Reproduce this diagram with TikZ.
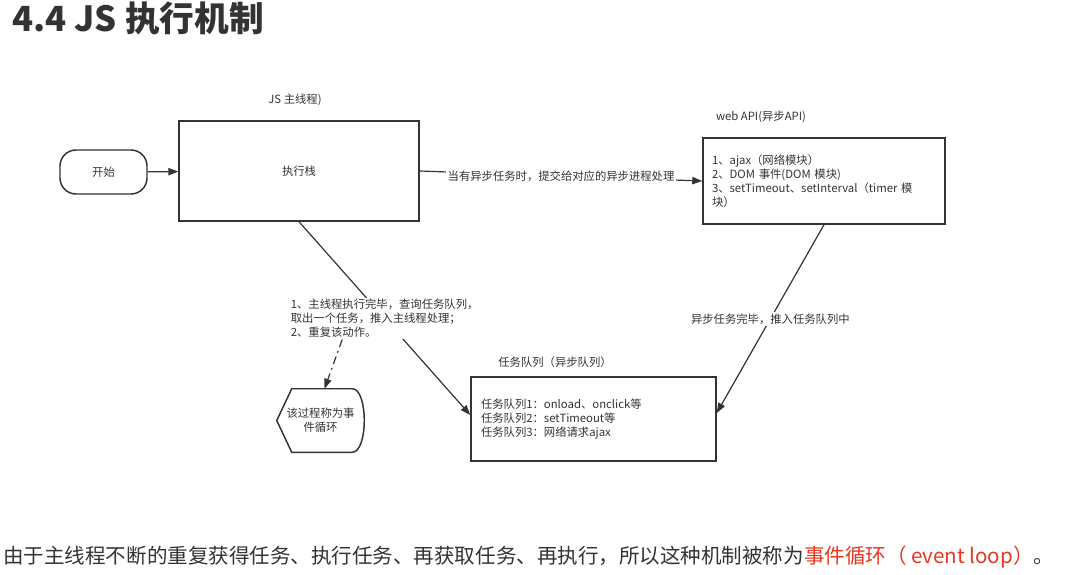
\documentclass[tikz,border=0pt]{standalone}
\usepackage{fontspec}
\setmainfont{Noto Sans CJK SC}
\usetikzlibrary{arrows.meta}
\definecolor{ink}{HTML}{333333}
\definecolor{loopred}{HTML}{E8361E}

\begin{document}
\begin{tikzpicture}[x=0.75pt, y=-0.75pt,
  font=\fontsize{8.5}{10.5}\selectfont, color=ink,
  box/.style={draw, line width=1.1pt, inner sep=0pt},
  lbl/.style={inner sep=1pt},
  onl/.style={fill=white, inner sep=1pt},
  ar/.style={-{Triangle[length=7.5pt, width=5.5pt]}, line width=0.9pt},
  loopar/.style={ar, dash pattern=on 6pt off 3pt on 1.5pt off 3pt}]
\useasboundingbox (0,0) rectangle (1068,575);
\node[anchor=base west, inner sep=0pt, font=\fontsize{26}{30}\selectfont\bfseries] (title) at (12,31) {4.4 JS 执行机制};
\node[box, rounded corners=12pt, minimum width=65.25pt, minimum height=33pt] (start) at (103.5,172) {开始};
\node[box, minimum width=180pt, minimum height=75pt] (exec) at (299,171) {执行栈};
\node[lbl] (mainlbl) at (295,100) {JS 主线程)};
\node[box, minimum width=181.5pt, minimum height=64.5pt, text width=168pt, align=left] (api) at (824,181)
  {1、ajax（网络模块）\\2、DOM 事件(DOM 模块)\\3、setTimeout、setInterval（timer~模\\块）};
\node[lbl] (apilbl) at (761,117) {web API(异步API)};
\node[box, minimum width=183.75pt, minimum height=63pt, text width=168.75pt, align=left] (queue) at (593.5,419)
  {任务队列1：onload、onclick等\\任务队列2：setTimeout等\\任务队列3：网络请求ajax};
\node[lbl] (queuelbl) at (555,362) {任务队列（异步队列）};
\node[minimum width=65.25pt, minimum height=47.25pt, inner sep=0pt, align=center] (loop) at (320.5,420.5) {该过程称为事\\件循环};
\draw[line width=1.1pt] (loop.west) -- ([xshift=11.25pt]loop.north west) -- ([xshift=-9pt]loop.north east)
  .. controls ([xshift=3pt]loop.north east) and ([xshift=3pt]loop.south east) .. ([xshift=-9pt]loop.south east)
  -- ([xshift=11.25pt]loop.south west) -- cycle;
\draw[ar] (start) -- (exec);
\draw[ar] (exec.east) -- node[onl] {当有异步任务时，提交给对应的异步进程处理} (api.west);
\draw[ar] (api.south) -- node[onl] {异步任务完毕，推入任务队列中} ([yshift=4.5pt]queue.east);
\draw[ar] (exec.south) -- node[onl, align=left] (note)
  {1、主线程执行完毕，查询任务队列，\\取出一个任务，推入主线程处理；\\2、重复该动作。} ([yshift=3pt]queue.west);
\draw[loopar] ([xshift=40pt]note.south west) -- ([xshift=3pt]loop.north);
\node[anchor=west, inner sep=0pt, font=\fontsize{15.4}{18}\selectfont] (summary) at (3,557)
  {由于主线程不断的重复获得任务、执行任务、再获取任务、再执行，所以这种机制被称为\textcolor{loopred}{事件循环（ event loop）}。};
\end{tikzpicture}
\end{document}
